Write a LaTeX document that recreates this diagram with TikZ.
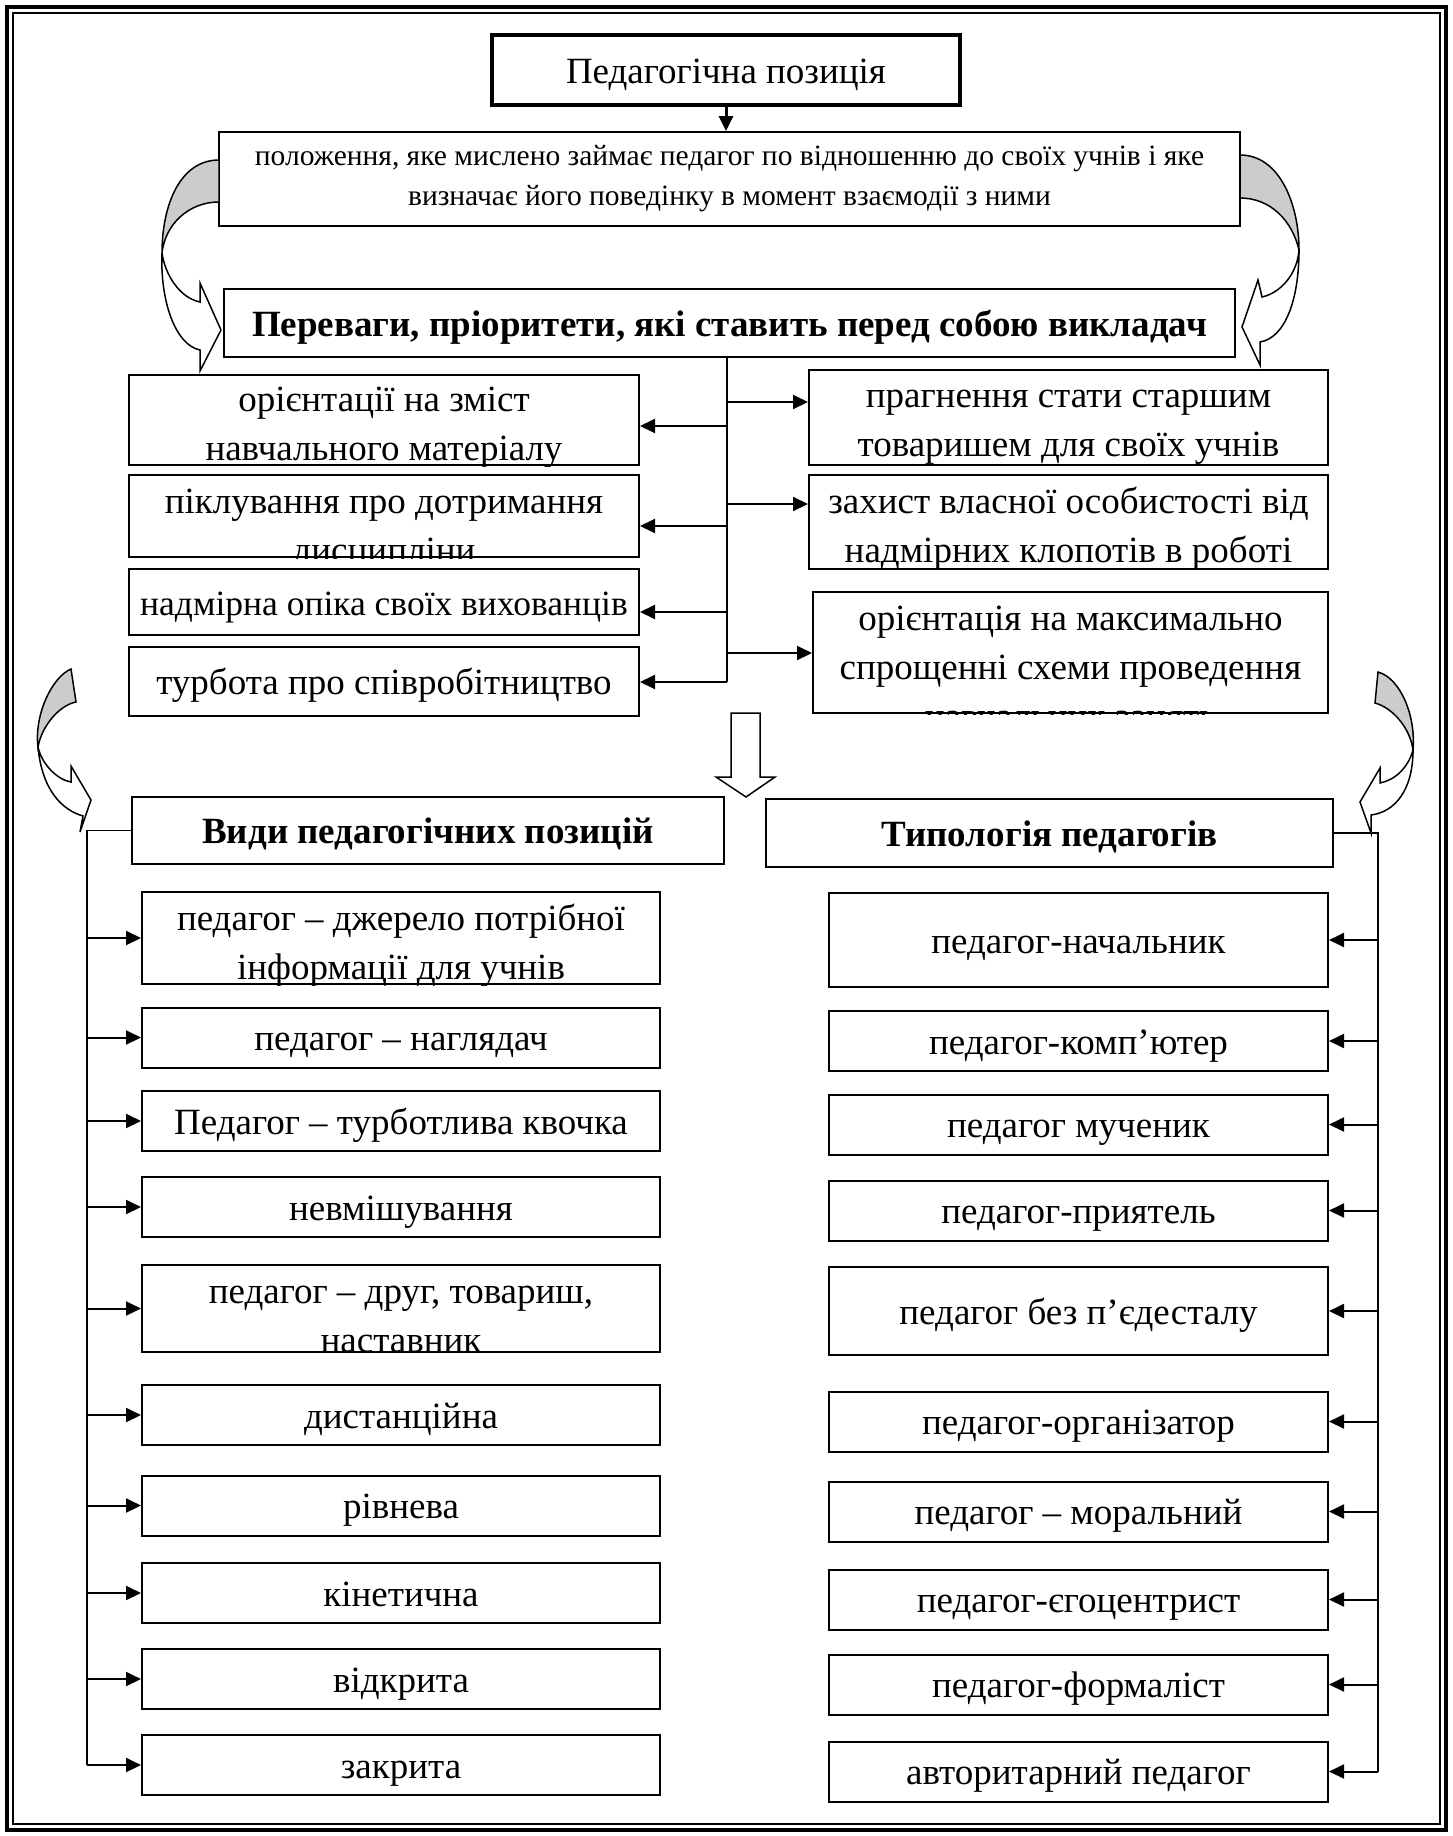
\documentclass[tikz,border=0pt]{standalone}
\usepackage{fontspec}
\setmainfont{Liberation Serif}
\usetikzlibrary{arrows.meta,positioning}

\newcommand{\bodyfont}{\fontsize{37}{49}\selectfont}
\newcommand{\smallfont}{\fontsize{29.5}{40}\selectfont}
% text of a box, moved by #2; whatever runs past the box is cut off
\newcommand{\cliptext}[3]{%
  \begin{scope}
    \clip (#1.south west) rectangle (#1.north east);
    \node[txt] at ([yshift=#2]#1.center) {#3};
  \end{scope}}

\begin{document}
\begin{tikzpicture}[x=1pt, y=-1pt,
		plain/.style={draw, line width=2pt, inner sep=0pt, minimum height=60pt, align=center, font=\bodyfont},
		box/.style={plain, text height=34pt, text depth=8pt},
		txt/.style={inner sep=0pt, align=center, font=\bodyfont},
		lbox/.style={box, minimum width=510pt},
		rbox/.style={box, minimum width=519pt},
		vbox/.style={box, minimum width=518pt},
		tbox/.style={box, minimum width=499pt},
		arr/.style={-{Triangle[length=15pt, width=14pt]}, line width=2pt},
		link/.style={line width=1.5pt},
		back/.style={draw, line width=1.5pt, fill=gray!40},
		front/.style={draw, line width=1.5pt, fill=white}
		]

	\useasboundingbox (0,0) rectangle (1453,1836);

	% --- Рамка ---
	\draw[line width=3.5pt] (7,7) rectangle (1446,1830);
	\draw[line width=1.5pt] (13,13) rectangle (1440,1824);

	% --- Верхня частина ---
	\node[box, line width=4.5pt, minimum width=468pt, minimum height=70pt] (pos) at (726,70) {Педагогічна позиція};
	\node[plain, minimum width=1021pt, minimum height=94pt, font=\smallfont] (def) at (729.5,179) {положення, яке мислено займає педагог по відношенню до своїх учнів і яке\\визначає його поведінку в момент взаємодії з ними};
	\node[box, minimum width=1011pt, minimum height=68pt, font=\bodyfont\bfseries] (prior) at (729.5,323) {Переваги, пріоритети, які ставить перед собою викладач};

	\draw[line width=3pt, -{Triangle[length=15pt, width=14pt]}] (pos.south) -- (pos.south |- def.north);

	% Пріоритети ліворуч
	\node[lbox, minimum height=90pt] (p1) at (384,420) {};
	\cliptext{p1}{-8pt}{орієнтації на зміст\\навчального матеріалу}
	\node[lbox, minimum height=82pt] (p2) at (384,516) {};
	\cliptext{p2}{-13pt}{піклування про дотримання\\дисципліни}
	\node[lbox, minimum height=66pt, font=\fontsize{35.5}{49}\selectfont] (p3) at (384,602) {надмірна опіка своїх вихованців};
	\node[lbox, minimum height=69pt] (p4) at (384,681.5) {турбота про співробітництво};

	% Пріоритети праворуч
	\node[rbox, minimum height=95pt] (q1) at (1068.5,417.5) {};
	\cliptext{q1}{-10pt}{прагнення стати старшим\\товаришем для своїх учнів}
	\node[rbox, minimum height=94pt] (q2) at (1068.5,522) {};
	\cliptext{q2}{-7pt}{захист власної особистості від\\надмірних клопотів в роботі}
	\node[box, minimum width=515pt, minimum height=121pt] (q3) at (1070.5,652.5) {};
	\cliptext{q3}{-14.5pt}{орієнтація на максимально\\спрощенні схеми проведення\\навчальних занять}

	% Стовбур і стрілки
	\coordinate (k0) at (727,357);
	\coordinate (k9) at (727,682);
	\draw[link] (k0) -- (k9);
	\foreach \y/\n in {426/p1, 526/p2, 612/p3, 682/p4} {
		\coordinate (k\n) at (727,\y);
		\draw[arr] (k\n) -- (k\n -| \n.east);
	}
	\foreach \y/\n in {402/q1, 504/q2, 653/q3} {
		\coordinate (k\n) at (727,\y);
		\draw[arr] (k\n) -- (k\n -| \n.west);
	}

	% Вигнуті стрілки зверху
	\draw[back] (219,160) .. controls (180,160) and (162,205) .. (162,253) .. controls (165,225) and (188,202) .. (219,202) -- cycle;
	\draw[front] (162,253) .. controls (165,275) and (180,298) .. (200,302) -- (200,283) -- (221,330) -- (200,371) -- (200,350) .. controls (175,345) and (160,300) .. (162,253) -- cycle;
	\draw[back] (1240,155) .. controls (1280,155) and (1299,205) .. (1299,250) .. controls (1292,220) and (1270,198) .. (1240,198) -- cycle;
	\draw[front] (1299,250) .. controls (1297,275) and (1280,293) .. (1262,297) -- (1258,280) -- (1242,327) -- (1260,365) -- (1260,342) .. controls (1285,338) and (1299,300) .. (1299,250) -- cycle;

	% Порожня стрілка вниз
	\draw[line width=1.5pt] (731,713) -- (760,713) -- (760,777) -- (775,777) -- (746,797) -- (716,777) -- (731,777) -- cycle;

	% --- Нижня частина ---
	\node[box, minimum width=592pt, minimum height=67pt, font=\bodyfont\bfseries] (vidy) at (428,830.5) {Види педагогічних позицій};
	\node[box, minimum width=567pt, minimum height=68pt, font=\bodyfont\bfseries] (typ) at (1049.5,833) {Типологія педагогів};

	% Вигнуті стрілки знизу
	\draw[back] (71,669) .. controls (52,677) and (34,715) .. (38,747) .. controls (42,725) and (60,705) .. (76,702) -- cycle;
	\draw[front] (38,747) .. controls (42,765) and (58,780) .. (71,782) -- (71,766) -- (91,800) -- (80,832) -- (83,816) .. controls (62,810) and (42,790) .. (38,747) -- cycle;
	\draw[back] (1378,672) .. controls (1400,678) and (1416,715) .. (1413,750) .. controls (1410,728) and (1393,708) .. (1375,703) -- cycle;
	\draw[front] (1413,750) .. controls (1408,768) and (1395,780) .. (1380,783) -- (1380,768) -- (1360,802) -- (1371,833) -- (1371,815) .. controls (1395,812) and (1413,790) .. (1413,750) -- cycle;

	% Види педагогічних позицій
	\node[vbox, minimum height=92pt] (v1) at (401,938) {};
	\cliptext{v1}{-8pt}{педагог – джерело потрібної\\інформації для учнів}
	\node[vbox] (v2) at (401,1037.5) {педагог – наглядач};
	\node[vbox] (v3) at (401,1121) {Педагог – турботлива квочка};
	\node[vbox] (v4) at (401,1207) {невмішування};
	\node[vbox, minimum height=87pt] (v5) at (401,1308.5) {};
	\cliptext{v5}{-11pt}{педагог – друг, товариш,\\наставник}
	\node[vbox] (v6) at (401,1415) {дистанційна};
	\node[vbox] (v7) at (401,1505.5) {рівнева};
	\node[vbox] (v8) at (401,1593) {кінетична};
	\node[vbox] (v9) at (401,1679) {відкрита};
	\node[vbox] (v10) at (401,1765) {закрита};

	% Типологія педагогів
	\node[tbox, minimum height=94pt] (t1) at (1078.5,940) {педагог-начальник};
	\node[tbox] (t2) at (1078.5,1041) {педагог-комп’ютер};
	\node[tbox] (t3) at (1078.5,1124.5) {педагог мученик};
	\node[tbox] (t4) at (1078.5,1210.5) {педагог-приятель};
	\node[tbox, minimum height=88pt] (t5) at (1078.5,1311) {педагог без п’єдесталу};
	\node[tbox] (t6) at (1078.5,1421.5) {педагог-організатор};
	\node[tbox] (t7) at (1078.5,1511.5) {педагог – моральний};
	\node[tbox] (t8) at (1078.5,1599.5) {педагог-єгоцентрист};
	\node[tbox] (t9) at (1078.5,1684.5) {педагог-формаліст};
	\node[tbox] (t10) at (1078.5,1771.5) {авторитарний педагог};

	% Лінії-дужки
	\coordinate (lbot) at (87,1765);
	\coordinate (rbot) at (1378,1771.5);
	\draw[link] (vidy.west) -| (lbot);
	\draw[link] (typ.east) -| (rbot);
	\foreach \i in {1,...,10} {
		\draw[arr] (lbot |- v\i.west) -- (v\i.west);
		\draw[arr] (rbot |- t\i.east) -- (t\i.east);
	}

\end{tikzpicture}
\end{document}
